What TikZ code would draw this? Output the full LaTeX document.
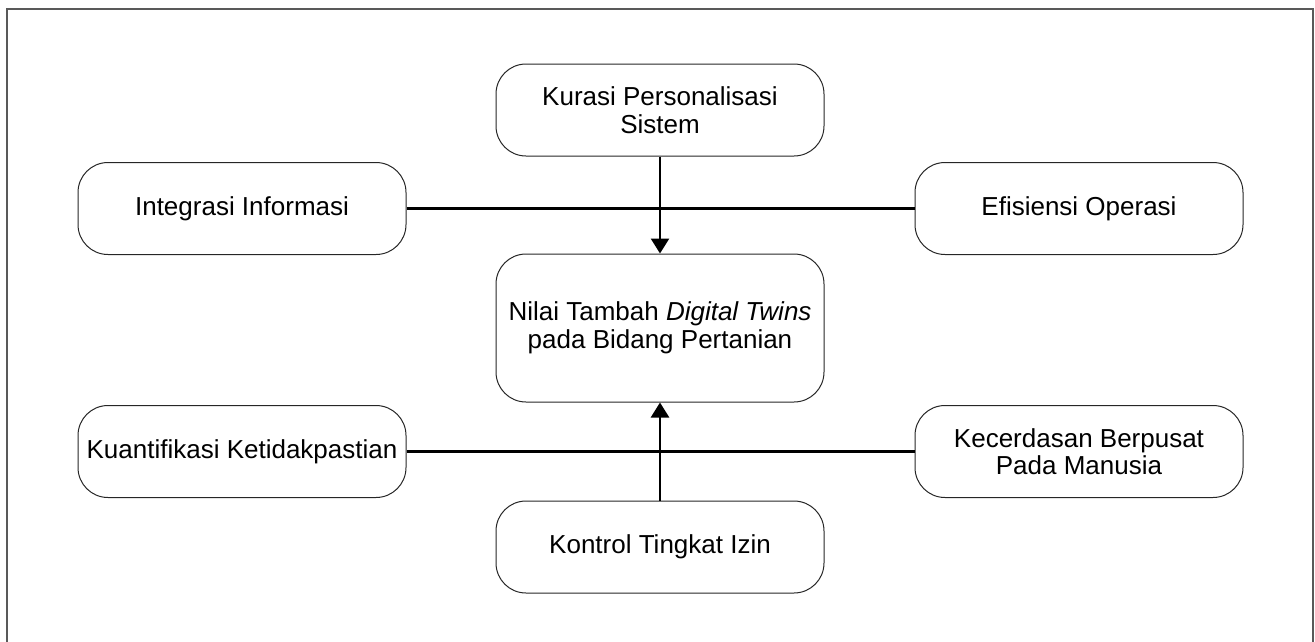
\documentclass[tikz,border=0pt]{standalone}
\usepackage{fontspec}
\setmainfont{Liberation Sans}
\usepackage{tikz}
\usetikzlibrary{positioning, arrows.meta}

\begin{document}
\begin{tikzpicture}[x=1pt, y=-1pt, box/.style={rectangle, draw=black!85, line width=1pt, minimum width=328pt, minimum height=92pt, rounded corners=30pt, align=center, font=\fontsize{26}{27.5}\selectfont}, link/.style={line width=2.6pt, black}, tip/.style={-{Triangle[width=18pt,length=15pt]}}]

    \useasboundingbox (0,0) rectangle (1315,641);
    % Frame
    \draw[black!65, line width=2pt] (7,645) -- (7,9) -- (1313,9) -- (1313,645);

    % Nodes
    \node[box, minimum height=148pt] (nilai) at (660,328)        {Nilai Tambah \textit{Digital Twins}\\pada Bidang Pertanian};
    \node[box] (kurasi)      [above=97pt of nilai]                   {Kurasi Personalisasi\\Sistem};
    \node[box] (kontrol)     [below=98pt of nilai]                   {Kontrol Tingkat Izin};
    \node[box] (integrasi)   [left=89pt of nilai.north west, yshift=45pt]   {Integrasi Informasi};
    \node[box] (efisiensi)   [right=90pt of nilai.north east, yshift=45pt]  {Efisiensi Operasi};
    \node[box] (kuantifikasi) [left=89pt of nilai.south west, yshift=-49pt] {Kuantifikasi Ketidakpastian};
    \node[box] (kecerdasan)  [right=90pt of nilai.south east, yshift=-49pt] {Kecerdasan Berpusat\\Pada Manusia};

    % Lines
    \draw[link] (integrasi.east) -- (efisiensi.west);
    \draw[link] (kuantifikasi.east) -- (kecerdasan.west);
    \draw[link, tip] (kurasi.south) -- (nilai.north);
    \draw[link, tip] (kontrol.north) -- (nilai.south);

\end{tikzpicture}
\end{document}
